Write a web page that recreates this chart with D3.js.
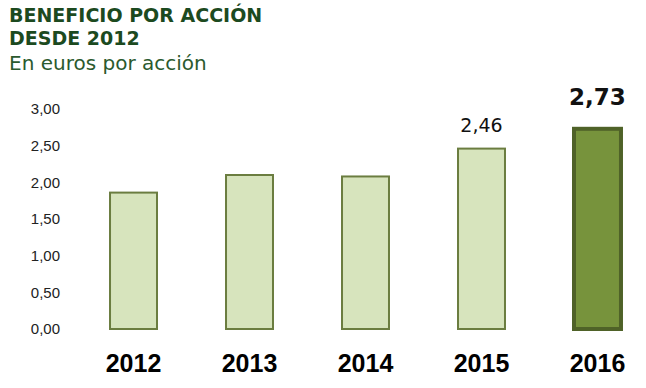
<!doctype html>
<html lang="es">
<head>
<meta charset="utf-8">
<title>Beneficio por acción</title>
<script src="https://cdnjs.cloudflare.com/ajax/libs/d3/7.8.5/d3.min.js"></script>
<style>
  body { margin:0; background:#fff; }
  svg { display:block; font-family:"DejaVu Sans", sans-serif; }
  .tick text { font-size:15px; fill:#222; }
</style>
</head>
<body>
<svg width="646" height="388"></svg>
<script>
const years = ["2012", "2013", "2014", "2015", "2016"];
const values = [1.86, 2.10, 2.08, 2.46, 2.73];
const yTicks = [0, 0.5, 1, 1.5, 2, 2.5, 3];
// only the last two bars carry a value label
const shownLabels = ["", "", "", "2,46", "2,73"];

const data = years.map((y, i) => ({year: y, value: values[i], label: shownLabels[i]}));

const svg = d3.select("svg");
const es = d3.formatLocale({decimal: ",", thousands: ".", grouping: [3], currency: ["", " €"]});
const fmt = es.format(".2f");

// title block
svg.append("text").attr("x", 9).attr("y", 22)
  .style("font-size", "19px").style("font-weight", "bold").style("fill", "#1c4a1f")
  .text("BENEFICIO POR ACCIÓN");
svg.append("text").attr("x", 9).attr("y", 45)
  .style("font-size", "19px").style("font-weight", "bold").style("fill", "#1c4a1f")
  .text("DESDE 2012");
svg.append("text").attr("x", 9).attr("y", 70)
  .style("font-size", "20px").style("fill", "#2b5a2e")
  .text("En euros por acción");

const x = d3.scaleBand().domain(years).range([41, 690]).padding(0.595);
const y = d3.scaleLinear().domain([0, 3]).range([329, 109]);

const yAxis = d3.axisLeft(y).tickValues(yTicks).tickFormat(fmt).tickSize(0).tickPadding(0);
svg.append("g").attr("transform", "translate(60,0)").call(yAxis)
  .call(g => g.select(".domain").remove());

const xAxis = d3.axisBottom(x).tickSize(0).tickPadding(0);
svg.append("g").attr("transform", "translate(0,354)").call(xAxis)
  .call(g => g.select(".domain").remove())
  .selectAll("text")
  .style("font-size", "25px").style("font-weight", "bold").style("fill", "#000");

svg.append("g").selectAll("rect").data(data).enter().append("rect")
  .attr("x", d => x(d.year))
  .attr("y", d => y(d.value))
  .attr("width", x.bandwidth())
  .attr("height", d => y(0) - y(d.value))
  .style("fill", d => d.year === "2016" ? "#77933c" : "#d7e4bd")
  .style("stroke", d => d.year === "2016" ? "#4f6228" : "#6b7d40")
  .style("stroke-width", d => d.year === "2016" ? 4 : 2);

svg.append("g").selectAll("text").data(data.filter(d => d.label)).enter().append("text")
  .attr("x", d => x(d.year) + x.bandwidth() / 2)
  .attr("y", d => y(d.value) - (d.year === "2016" ? 24 : 17))
  .attr("text-anchor", "middle")
  .style("font-size", d => d.year === "2016" ? "23px" : "19px")
  .style("font-weight", d => d.year === "2016" ? "bold" : "normal")
  .style("fill", "#111")
  .text(d => d.label);
</script>
</body>
</html>
